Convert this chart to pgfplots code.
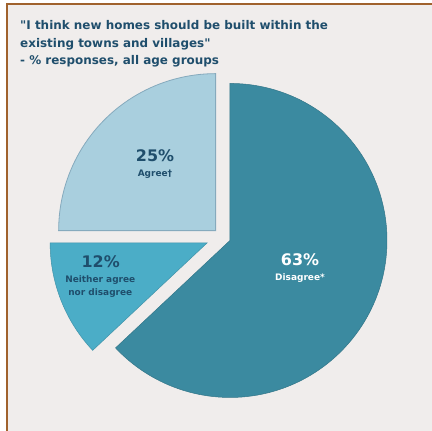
\documentclass[border=0pt]{standalone}
\usepackage{pgfplots}
\pgfplotsset{compat=1.18}
\usepackage{pgfplotstable}
\usepackage{fontspec}
\setmainfont{DejaVu Sans}
\definecolor{bg}{HTML}{F0EDEC}
\definecolor{frame}{HTML}{A0622D}
\definecolor{agreec}{HTML}{A9CFDE}
\definecolor{agreeedge}{HTML}{86AABD}
\definecolor{neitherc}{HTML}{4BADC7}
\definecolor{disagreec}{HTML}{3B8AA0}
\definecolor{txt}{HTML}{1F4E6C}
\pgfplotstableread{
label value explode
Disagree 63 8.7
Neither 12 16
Agree 25 9
}\piedata
\begin{document}
\begin{tikzpicture}[x=1bp,y=1bp]
\pgfplotstablegetelem{0}{value}\of\piedata \let\vA\pgfplotsretval
\pgfplotstablegetelem{1}{value}\of\piedata \let\vB\pgfplotsretval
\pgfplotstablegetelem{2}{value}\of\piedata \let\vC\pgfplotsretval
\pgfplotstablegetelem{0}{explode}\of\piedata \let\eA\pgfplotsretval
\pgfplotstablegetelem{1}{explode}\of\piedata \let\eB\pgfplotsretval
\pgfplotstablegetelem{2}{explode}\of\piedata \let\eC\pgfplotsretval
\pgfmathsetmacro{\aS}{90}
\pgfmathsetmacro{\aE}{\aS-3.6*\vA}
\pgfmathsetmacro{\bE}{\aE-3.6*\vB}
\pgfmathsetmacro{\cE}{\bE-3.6*\vC}
\pgfmathsetmacro{\aX}{222+\eA*cos((\aS+\aE)/2)}
\pgfmathsetmacro{\aY}{194+\eA*sin((\aS+\aE)/2)}
\pgfmathsetmacro{\bX}{222+\eB*cos((\aE+\bE)/2)}
\pgfmathsetmacro{\bY}{194+\eB*sin((\aE+\bE)/2)}
\pgfmathsetmacro{\cX}{222+\eC*cos((\bE+\cE)/2)}
\pgfmathsetmacro{\cY}{194+\eC*sin((\bE+\cE)/2)}
\fill[white] (0,0) rectangle (432,431);
\fill[bg] (7,0) rectangle (432,427);
\draw[frame, line width=1.4bp] (7,0) -- (7,427) -- (432,427);
\begin{axis}[at={(0,0)}, anchor=south west, scale only axis,
  width=432bp, height=431bp, xmin=0, xmax=432, ymin=0, ymax=431,
  hide axis, clip=false]
\fill[disagreec, draw=disagreec!85!black, line width=0.5bp] (axis cs:\aX,\aY) -- ++(\aS:157bp) arc[start angle=\aS, end angle=\aE, radius=157bp] -- cycle;
\fill[neitherc, draw=neitherc!85!black, line width=0.5bp] (axis cs:\bX,\bY) -- ++(\aE:157bp) arc[start angle=\aE, end angle=\bE, radius=157bp] -- cycle;
\fill[agreec, draw=agreeedge, line width=0.8bp] (axis cs:\cX,\cY) -- ++(\bE:157bp) arc[start angle=\bE, end angle=\cE, radius=157bp] -- cycle;
\end{axis}
\begin{scope}[every node/.style={inner sep=0pt, font=\bfseries, text=txt}]
\node[anchor=base west, font=\fontsize{12}{14}\selectfont\bfseries] at (20,401.7) {\textquotedbl I think new homes should be built within the};
\node[anchor=base west, font=\fontsize{12}{14}\selectfont\bfseries] at (20,384) {existing towns and villages\textquotedbl};
\node[anchor=base west, font=\fontsize{12}{14}\selectfont\bfseries] at (20,367) {- \% responses, all age groups};
\node[anchor=base, font=\fontsize{16}{19}\selectfont\bfseries] at (155,269.3) {25\%};
\node[anchor=base, font=\fontsize{9}{11}\selectfont\bfseries] at (155,254.3) {Agree†};
\node[anchor=base, font=\fontsize{16}{19}\selectfont\bfseries] at (100.7,163.7) {12\%};
\node[anchor=base, font=\fontsize{9}{11}\selectfont\bfseries] at (100.3,148.3) {Neither agree};
\node[anchor=base, font=\fontsize{9}{11}\selectfont\bfseries] at (100.3,136) {nor disagree};
\node[anchor=base, text=white, font=\fontsize{16}{19}\selectfont\bfseries] at (300,166) {63\%};
\node[anchor=base, text=white, font=\fontsize{9}{11}\selectfont\bfseries] at (300,151) {Disagree*};
\end{scope}
\pgfresetboundingbox
\path[use as bounding box] (0,0) rectangle (432,431);
\end{tikzpicture}
\end{document}
